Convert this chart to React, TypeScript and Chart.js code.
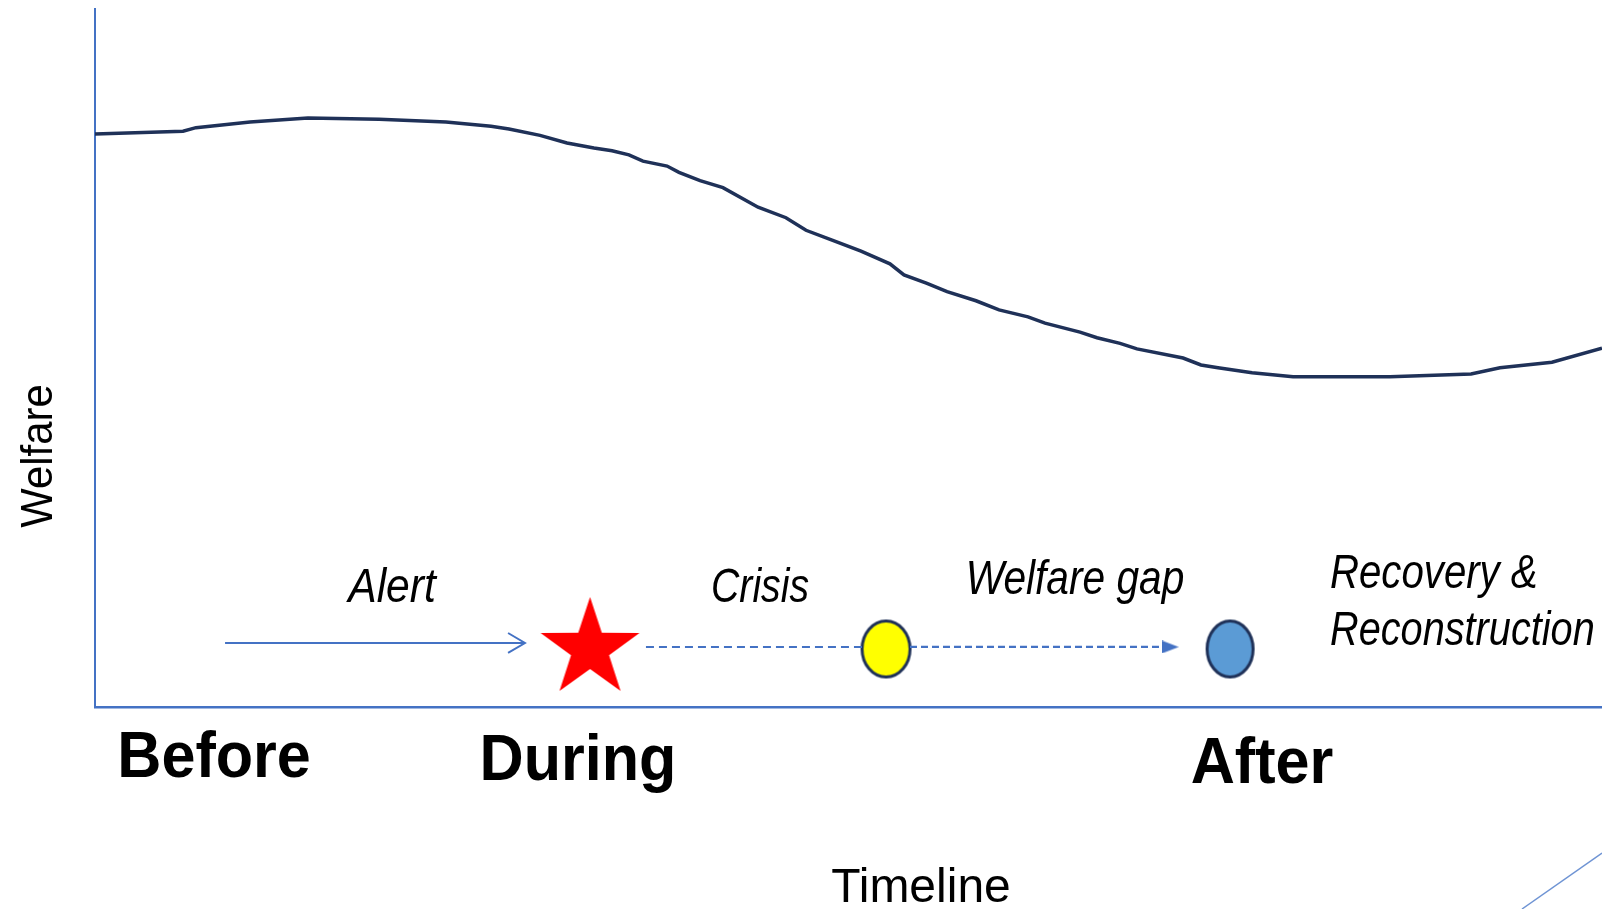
import React, { useEffect, useRef } from "react";
import { Chart, registerables } from "chart.js";

Chart.register(...registerables);

// Welfare curve (timeline 0..100, welfare 0..100)
const curveX = [0, 5.84, 6.7, 10.29, 14.13, 18.85, 23.29, 26.28, 27.47, 29.53, 31.32, 33.11, 34.31, 35.43, 36.36, 37.96, 38.75, 40.15, 41.67, 44.0, 45.85, 47.18, 48.91, 50.83, 52.75, 53.68, 55.21, 56.54, 58.46, 59.99, 61.91, 63.04, 65.36, 66.49, 68.02, 69.14, 72.2, 73.39, 74.52, 76.78, 79.5, 85.93, 91.31, 93.23, 96.68, 100];
const curveY = [82.1, 82.5, 83.0, 83.8, 84.4, 84.2, 83.8, 83.2, 82.8, 81.9, 80.8, 80.1, 79.7, 79.1, 78.2, 77.5, 76.6, 75.4, 74.4, 71.6, 70.1, 68.3, 66.9, 65.3, 63.5, 61.9, 60.7, 59.5, 58.2, 56.9, 55.9, 55.0, 53.7, 52.9, 52.1, 51.3, 50.0, 49.0, 48.6, 47.9, 47.3, 47.3, 47.7, 48.6, 49.4, 51.4];

// Timeline markers
const alertArrowX = [8.63, 28.53];
const alertArrowY = [9.17, 9.17];
const chevronX = [27.41, 28.53, 27.41];
const chevronY = [10.6, 9.17, 7.74];
const crisisDashX = [36.56, 50.9];
const crisisDashY = [8.6, 8.6];
const gapDashX = [54.08, 70.8];
const gapDashY = [8.6, 8.6];
const gapHead = { x: 71.35, y: 8.6 };
const starPoint = { x: 32.85, y: 8.31 };
const yellowPoint = { x: 52.49, y: 8.31 };
const bluePoint = { x: 75.32, y: 8.31 };

// Text labels
const stageLabels = ["Alert", "Crisis", "Welfare gap", "Recovery &", "Reconstruction"];
const stageX = [19.71, 44.13, 65.03, 81.95, 81.95];
const stageY = [15.04, 15.04, 16.19, 17.05, 8.88];
const stageAlign = ["center", "center", "center", "left", "left"];
const stageScale = [0.87, 0.8, 0.83, 0.82, 0.81];

const phaseLabels = ["Before", "During", "After"];
const phaseX = [7.9, 32.05, 77.44];
const phaseY = [-10.0, -10.46, -10.89];

const xTitle = { text: "Timeline", x: 54.81, y: -27.94 };
const yTitle = { text: "Welfare", x: -3.65, y: 35.96 };

const BLUE = "#4472C4";
const NAVY = "#1F3158";

function pts(xs: number[], ys: number[]) {
  return xs.map((x, i) => ({ x, y: ys[i] }));
}

function makeStar(R: number, r: number, color: string) {
  const c = document.createElement("canvas");
  const w = Math.ceil(2 * R * Math.sin((72 * Math.PI) / 180)) + 2;
  const h = Math.ceil(2 * R) + 2;
  c.width = w;
  c.height = h;
  const ctx = c.getContext("2d")!;
  const cx = w / 2;
  const cy = h / 2;
  ctx.beginPath();
  for (let i = 0; i < 10; i++) {
    const rad = i % 2 === 0 ? R : r;
    const a = -Math.PI / 2 + (i * Math.PI) / 5;
    const px = cx + rad * Math.cos(a);
    const py = cy + rad * Math.sin(a);
    if (i === 0) ctx.moveTo(px, py);
    else ctx.lineTo(px, py);
  }
  ctx.closePath();
  ctx.fillStyle = color;
  ctx.fill();
  return c;
}

function makeEllipse(rx: number, ry: number, fill: string, stroke: string, lw: number) {
  const c = document.createElement("canvas");
  c.width = Math.ceil(2 * rx + lw + 2);
  c.height = Math.ceil(2 * ry + lw + 2);
  const ctx = c.getContext("2d")!;
  ctx.beginPath();
  ctx.ellipse(c.width / 2, c.height / 2, rx, ry, 0, 0, Math.PI * 2);
  ctx.fillStyle = fill;
  ctx.fill();
  ctx.lineWidth = lw;
  ctx.strokeStyle = stroke;
  ctx.stroke();
  return c;
}

function makeTriangle(w: number, h: number, color: string) {
  const c = document.createElement("canvas");
  c.width = w;
  c.height = h;
  const ctx = c.getContext("2d")!;
  ctx.beginPath();
  ctx.moveTo(0, 0);
  ctx.lineTo(w, h / 2);
  ctx.lineTo(0, h);
  ctx.closePath();
  ctx.fillStyle = color;
  ctx.fill();
  return c;
}

function drawText(
  ctx: CanvasRenderingContext2D,
  text: string,
  x: number,
  y: number,
  font: string,
  align: CanvasTextAlign,
  sx: number,
  rot = 0,
  baseline: CanvasTextBaseline = "alphabetic"
) {
  ctx.save();
  ctx.translate(x, y);
  if (rot) ctx.rotate(rot);
  ctx.scale(sx, 1);
  ctx.font = font;
  ctx.textAlign = align;
  ctx.textBaseline = baseline;
  ctx.fillStyle = "#000";
  ctx.fillText(text, 0, 0);
  ctx.restore();
}

const labelsPlugin = {
  id: "labelsPlugin",
  afterDraw(chart: any) {
    const { ctx, scales } = chart;
    const xs = scales.x;
    const ys = scales.y;
    stageLabels.forEach((t, i) => {
      drawText(
        ctx,
        t,
        xs.getPixelForValue(stageX[i]),
        ys.getPixelForValue(stageY[i]),
        "italic 49px 'Liberation Sans'",
        stageAlign[i] as CanvasTextAlign,
        stageScale[i]
      );
    });
    phaseLabels.forEach((t, i) => {
      drawText(
        ctx,
        t,
        xs.getPixelForValue(phaseX[i]),
        ys.getPixelForValue(phaseY[i]),
        "bold 65px 'Liberation Sans'",
        "center",
        0.94
      );
    });
    drawText(
      ctx,
      xTitle.text,
      xs.getPixelForValue(xTitle.x),
      ys.getPixelForValue(xTitle.y),
      "48px 'Liberation Sans'",
      "center",
      1
    );
    drawText(
      ctx,
      yTitle.text,
      xs.getPixelForValue(yTitle.x),
      ys.getPixelForValue(yTitle.y),
      "44px 'Liberation Sans'",
      "center",
      0.95,
      -Math.PI / 2,
      "middle"
    );
    // slide decoration line in the bottom-right corner
    const w = chart.width;
    const h = chart.height;
    ctx.save();
    ctx.strokeStyle = "#6F94D4";
    ctx.lineWidth = 1.5;
    ctx.beginPath();
    ctx.moveTo(w - 80, h);
    ctx.lineTo(w, h - 56);
    ctx.stroke();
    ctx.restore();
  },
};

export default function App() {
  const ref = useRef<HTMLCanvasElement>(null);
  useEffect(() => {
    if (!ref.current) return;
    const star = makeStar(52, 20, "#FF0000");
    const yellow = makeEllipse(24, 28, "#FFFF00", NAVY, 3);
    const blue = makeEllipse(23, 28, "#5B9BD5", NAVY, 3);
    const tri = makeTriangle(17, 13, BLUE);
    const lineDs = (data: any, color: string, width: number, dash: number[] = []) => ({
      data,
      showLine: true,
      borderColor: color,
      borderWidth: width,
      borderDash: dash,
      pointRadius: 0,
      fill: false,
      tension: 0,
    });
    const pointDs = (p: any, style: any) => ({
      data: [p],
      showLine: false,
      pointStyle: style,
      pointRadius: 10,
      pointHoverRadius: 10,
    });
    const chart = new Chart(ref.current, {
      type: "scatter",
      data: {
        datasets: [
          lineDs(pts(curveX, curveY), NAVY, 3.5),
          lineDs(pts(alertArrowX, alertArrowY), BLUE, 2),
          lineDs(pts(chevronX, chevronY), BLUE, 2),
          lineDs(pts(crisisDashX, crisisDashY), BLUE, 2, [8, 5]),
          lineDs(pts(gapDashX, gapDashY), BLUE, 2.2, [7, 4]),
          pointDs(gapHead, tri),
          pointDs(starPoint, star),
          pointDs(yellowPoint, yellow),
          pointDs(bluePoint, blue),
        ] as any,
      },
      options: {
        animation: false,
        responsive: false,
        devicePixelRatio: 1,
        layout: { autoPadding: false, padding: { left: 95, right: 0, top: 9, bottom: 202 } },
        plugins: { legend: { display: false }, tooltip: { enabled: false } },
        events: [],
        scales: {
          x: {
            type: "linear",
            min: 0,
            max: 100,
            grid: { display: false, drawTicks: false, tickLength: 0 },
            ticks: { display: false },
            border: { display: true, color: BLUE, width: 2.5 },
          },
          y: {
            type: "linear",
            min: 0,
            max: 100,
            grid: { display: false, drawTicks: false, tickLength: 0 },
            ticks: { display: false },
            border: { display: true, color: BLUE, width: 2 },
          },
        },
      },
      plugins: [labelsPlugin],
    });
    return () => chart.destroy();
  }, []);
  return (
    <div style={{ position: "fixed", left: 0, top: 0, width: 1602, height: 909, background: "#fff" }}>
      <canvas ref={ref} width={1602} height={909} style={{ display: "block" }} />
    </div>
  );
}
